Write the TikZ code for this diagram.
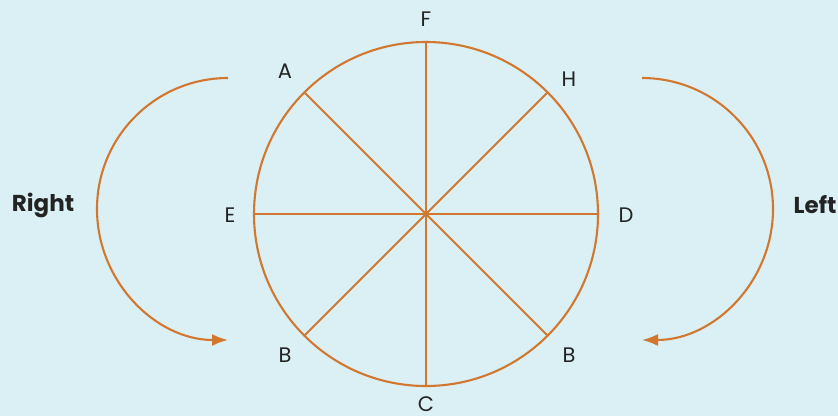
\documentclass[tikz,border=0pt]{standalone}
\usepackage{fontspec}
\setmainfont{Poppins}
\usetikzlibrary{arrows.meta}
\definecolor{bgcyan}{HTML}{DAF0F4}
\definecolor{rustline}{HTML}{D2772F}
\definecolor{inkdark}{HTML}{232323}
\begin{document}
\begin{tikzpicture}[x=1pt,y=-1pt,
  pt/.style={text=inkdark,font=\fontsize{21}{24}\selectfont,inner sep=0pt},
  side/.style={text=inkdark,font=\fontsize{23}{26}\selectfont\bfseries,inner sep=0pt},
  spoke/.style={draw=rustline,line width=2.1pt},
  turn/.style={draw=rustline,line width=2.1pt,-{Latex[length=16pt,width=12pt]}}]
\fill[bgcyan] (0,0) rectangle (838,416);
\useasboundingbox (0,0) rectangle (838,416);
\node[spoke,circle,minimum size=344pt,inner sep=0pt] (wheel) at (426,214) {};
\draw[spoke] (wheel.north) -- (wheel.south);
\draw[spoke] (wheel.west) -- (wheel.east);
\draw[spoke] (wheel.135) -- (wheel.-45);
\draw[spoke] (wheel.45) -- (wheel.-135);
\node[pt] (lblF) at (426,19) {F};
\node[pt] (lblA) at (285,71) {A};
\node[pt] (lblH) at (569,79) {H};
\node[pt] (lblE) at (230,215) {E};
\node[pt] (lblD) at (626,215) {D};
\node[pt] (lblBl) at (285,355) {B};
\node[pt] (lblBr) at (569,355) {B};
\node[pt] (lblC) at (426,404) {C};
\node[side] (right) at (43,205) {Right};
\node[side] (left) at (815,205) {Left};
\coordinate (rtop) at (228,78);
\coordinate (ltop) at (642,78);
\draw[turn] (rtop) arc[start angle=270,end angle=90,radius=131];
\draw[turn] (ltop) arc[start angle=-90,end angle=90,radius=131];
\end{tikzpicture}
\end{document}
